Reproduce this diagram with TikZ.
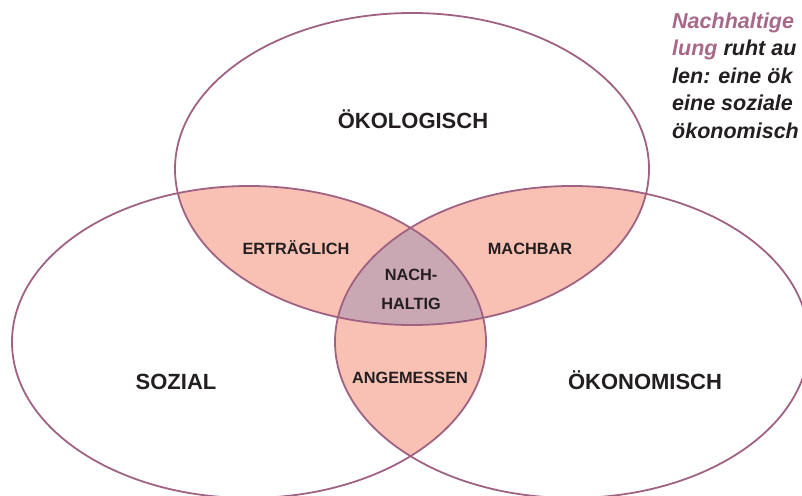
\documentclass[tikz,border=0pt]{standalone}
\usepackage{fontspec}
\setmainfont{Liberation Sans}
\usetikzlibrary{calc}

\definecolor{rand}{HTML}{A06283}
\definecolor{lachs}{HTML}{F9C1B4}
\definecolor{mitte}{HTML}{C9A7B3}
\definecolor{titel}{HTML}{A8688A}
\definecolor{schrift}{HTML}{231F20}

\begin{document}
\begin{tikzpicture}[x=1pt, y=-1pt,
    kreis/.style={draw=rand, line width=1.8pt},
    gross/.style={font=\fontsize{22}{26}\selectfont\bfseries, text=schrift, anchor=base, inner sep=0pt},
    klein/.style={font=\fontsize{16.3}{29}\selectfont\bfseries, text=schrift, anchor=base, inner sep=0pt}]

    \useasboundingbox (0,0) rectangle (802,495);
    \clip (0,0) rectangle (802,495);

    \coordinate (oeko) at (412,169);
    \coordinate (sozi) at (249,342);
    \coordinate (wirt) at (572,342);

    % Schnittflaechen paarweise
    \begin{scope}
        \clip (oeko) ellipse (237 and 156);
        \fill[lachs] (sozi) ellipse (237 and 156);
        \fill[lachs] (wirt) ellipse (237 and 156);
    \end{scope}
    \begin{scope}
        \clip (sozi) ellipse (237 and 156);
        \fill[lachs] (wirt) ellipse (237 and 156);
    \end{scope}

    % Mitte
    \begin{scope}
        \clip (oeko) ellipse (237 and 156);
        \clip (sozi) ellipse (237 and 156);
        \fill[mitte] (wirt) ellipse (237 and 156);
    \end{scope}

    \foreach \m in {oeko, sozi, wirt}
        \draw[kreis] (\m) ellipse (237 and 156);

    \node[gross] (oekol) at (413,128) {ÖKOLOGISCH};
    \node[gross] (sozial) at (176,389) {SOZIAL};
    \node[gross] (oekon) at (645,389) {ÖKONOMISCH};

    \node[klein] (ertr) at (296,254) {ERTRÄGLICH};
    \node[klein] (mach) at (530,254) {MACHBAR};
    \node[klein, align=center] (nach) at (411,309) {NACH-\\HALTIG};
    \node[klein] (angem) at (410,383) {ANGEMESSEN};

    \node[anchor=base west, inner sep=0pt, align=left, text=schrift,
        font=\fontsize{21.5}{27.5}\selectfont\bfseries\itshape] (satz) at (672,138)
        {\textcolor{titel}{Nachhaltige}\\
         \textcolor{titel}{lung} ruht au\\
         len: eine ök\\
         eine soziale\\
         ökonomisch};

\end{tikzpicture}
\end{document}
